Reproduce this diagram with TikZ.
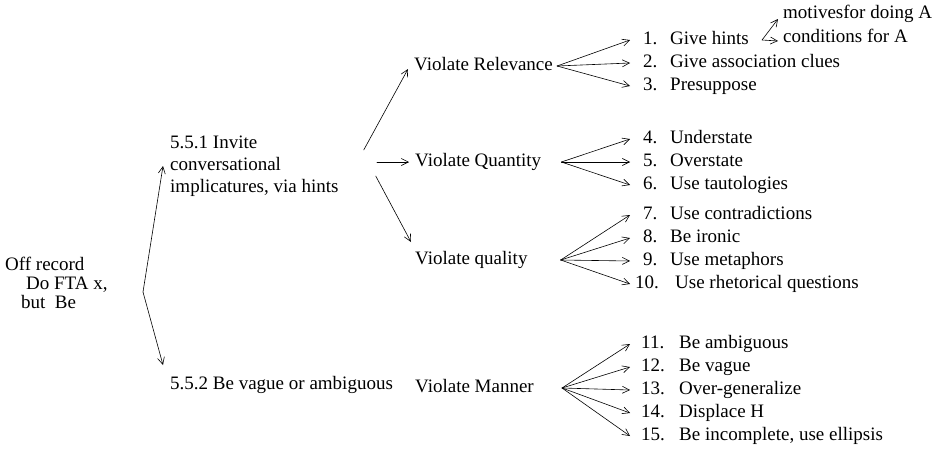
\documentclass[tikz,border=0pt]{standalone}
\usepackage{fontspec}
\setmainfont{Liberation Serif}
\usetikzlibrary{arrows.meta}
\begin{document}
\begin{tikzpicture}[x=1pt,y=-1pt,line cap=round,line join=round,font=\fontsize{19}{20}\selectfont,
  lbl/.style={anchor=west,inner sep=0pt},
  txt/.style={lbl,text height=13pt,text depth=4pt},
  item/.style={txt,inner xsep=#1},item/.default=13pt,
  arr/.style={-{Straight Barb[length=7pt,width=7pt]},line width=0.6pt}]
\useasboundingbox (0,0) rectangle (940,450);
% root and the two strategies
\node[lbl,align=left,font=\fontsize{19}{19}\selectfont] (offrec) at (5,283) {Off record\\\hspace*{21pt}Do FTA x,\\\hspace*{16pt}but\ \ Be};
\node[lbl,align=left,font=\fontsize{19}{22}\selectfont] (hints) at (170,166) {5.5.1 Invite\\conversational\\implicatures, via hints};
\node[txt] (vague) at (170,385) {5.5.2 Be vague or ambiguous};
\coordinate (br) at (143,292);
\draw[arr] (br) -- ([xshift=-7pt]hints.west);\draw[arr] (br) -- ([xshift=-7pt,yshift=20pt]vague.west);
% maxims
\node[txt] (rel) at (414,66) {Violate Relevance};
\node[txt] (qnt) at (415,162) {Violate Quantity};
\node[txt] (qal) at (415,260) {Violate quality};
\node[txt] (man) at (415,388) {Violate Manner};
\draw[arr] ([xshift=25pt,yshift=16pt]hints.east) -- ([xshift=-6pt,yshift=-3pt]rel.west);
\draw[arr] ([xshift=-38pt]qnt.west) -- ([xshift=-6pt]qnt.west);
\draw[arr] ([xshift=37pt,yshift=-10pt]hints.east) -- ([xshift=-4pt,yshift=18pt]qal.west);
\coordinate (frel) at ([xshift=4pt]rel.east);\coordinate (fqnt) at ([xshift=20pt]qnt.east);
\coordinate (fqal) at ([xshift=33pt]qal.east);\coordinate (fman) at ([xshift=28pt]man.east);
% the fifteen strategies
\foreach \n/\y/\t in {1/40/Give hints,2/63/Give association clues,3/86/Presuppose}{\node[item] (i\n) at (630,\y) {\makebox[27pt][l]{\n.}\t};\draw[arr] (frel) -- (i\n.west);}
\foreach \n/\y/\t in {4/139/Understate,5/162/Overstate,6/185/Use tautologies}{\node[item] (i\n) at (630,\y) {\makebox[27pt][l]{\n.}\t};\draw[arr] (fqnt) -- (i\n.west);}
\foreach \n/\y/\t in {7/215/Use contradictions,8/238/Be ironic,9/261/Use metaphors}{\node[item] (i\n) at (630,\y) {\makebox[27pt][l]{\n.}\t};\draw[arr] (fqal) -- (i\n.west);}
\node[item=5pt] (i10) at (630,284) {\makebox[40pt][l]{10.}Use rhetorical questions};\draw[arr] (fqal) -- (i10.west);
\foreach \n/\y/\t in {11/344/Be ambiguous,12/367/Be vague,13/390/Over-generalize,14/413/Displace H,15/436/{Be incomplete, use ellipsis}}{\node[item=11pt] (i\n) at (630,\y) {\makebox[38pt][l]{\n.}\t};\draw[arr] (fman) -- (i\n.west);}
% kinds of hints
\node[item=5pt] (mot) at (778,14) {motivesfor doing A};
\node[item=5pt] (cond) at (778,38) {conditions for A};
\draw[arr] (i1.east) -- ([yshift=-5pt]mot.west);\draw[arr] (i1.east) -- ([yshift=-3pt]cond.west);
\end{tikzpicture}
\end{document}
